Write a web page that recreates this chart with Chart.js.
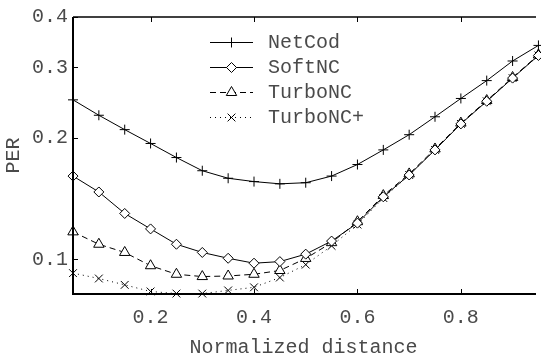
<!DOCTYPE html>
<html><head><meta charset="utf-8">
<script src="https://cdn.jsdelivr.net/npm/chart.js@4/dist/chart.umd.min.js"></script>
<style>html,body{margin:0;padding:0;background:#fff;overflow:hidden}</style>
</head><body>
<canvas id="c" width="541" height="363"></canvas>
<script>
// ---- data ----
const distances = [0.05,0.10,0.15,0.20,0.25,0.30,0.35,0.40,0.45,0.50,0.55,0.60,0.65,0.70,0.75,0.80,0.85,0.90,0.95];
const seriesNames = ['NetCod','SoftNC','TurboNC','TurboNC+'];
const netCod     = [0.249,0.228,0.210,0.194,0.179,0.166,0.159,0.156,0.154,0.155,0.161,0.172,0.187,0.204,0.226,0.251,0.278,0.311,0.340];
const softNC     = [0.161,0.147,0.130,0.119,0.109,0.104,0.1006,0.0978,0.0987,0.103,0.111,0.123,0.143,0.162,0.187,0.217,0.247,0.282,0.321];
const turboNC    = [0.117,0.109,0.104,0.0964,0.0918,0.0906,0.0909,0.0918,0.0938,0.1005,0.110,0.124,0.144,0.163,0.188,0.218,0.248,0.283,0.322];
const turboNCp   = [0.0924,0.0896,0.0864,0.0832,0.0822,0.0822,0.0837,0.0852,0.0901,0.097,0.108,0.122,0.142,0.162,0.187,0.217,0.247,0.282,0.321];
const xTicks = [0.2,0.4,0.6,0.8];
const yTicks = [0.1,0.2,0.3,0.4];
const xTitle = 'Normalized distance';
const yTitle = 'PER';

// ---- styles ----
const FONT = "'Liberation Mono','DejaVu Sans Mono',monospace";
const TEXT = '#4a4a4a';
const seriesStyles = [
  {pointStyle:'cross',    pointRadius:5,   borderDash:[]},
  {pointStyle:'rectRot',  pointRadius:5,   borderDash:[]},
  {pointStyle:'triangle', pointRadius:6,   borderDash:[6,4]},
  {pointStyle:'crossRot', pointRadius:5.5, borderDash:[1,4]}
];
const allSeries = [netCod, softNC, turboNC, turboNCp];

const datasets = allSeries.map((arr,i)=>({
  label: seriesNames[i],
  data: distances.map((x,j)=>({x:x, y:arr[j]})),
  borderColor:'#000',
  borderWidth:1,
  borderDash: seriesStyles[i].borderDash,
  pointStyle: seriesStyles[i].pointStyle,
  pointRadius: seriesStyles[i].pointRadius,
  pointBorderColor:'#000',
  pointBackgroundColor:'#fff',
  pointBorderWidth:1,
  tension:0,
  fill:false,
  clip:false
}));

const frame = {
  id:'frame',
  afterDraw(chart){
    const {ctx, chartArea:a, scales:{x,y}} = chart;
    ctx.save();
    ctx.strokeStyle='#000';
    ctx.lineWidth=2;
    ctx.beginPath();
    ctx.moveTo(a.left, a.top); ctx.lineTo(a.left, a.bottom); ctx.lineTo(a.right+2, a.bottom);
    ctx.stroke();
    ctx.lineWidth=1.5;
    ctx.beginPath(); ctx.moveTo(a.left, a.top); ctx.lineTo(a.right+2, a.top); ctx.stroke();
    ctx.lineWidth=1;
    xTicks.forEach(v=>{
      const px = Math.round(x.getPixelForValue(v))+0.5;
      ctx.beginPath();
      ctx.moveTo(px, a.bottom); ctx.lineTo(px, a.bottom-5);
      ctx.moveTo(px, a.top); ctx.lineTo(px, a.top+5);
      ctx.stroke();
    });
    yTicks.forEach(v=>{
      const py = Math.round(y.getPixelForValue(v))+0.5;
      ctx.beginPath(); ctx.moveTo(a.left, py); ctx.lineTo(a.left+5, py); ctx.stroke();
    });
    // legend
    const rows = [42,67,92,117];
    chart.data.datasets.forEach((ds,i)=>{
      const ry = rows[i];
      ctx.strokeStyle='#000'; ctx.lineWidth=1;
      ctx.setLineDash(ds.borderDash);
      ctx.beginPath(); ctx.moveTo(210, ry+0.5); ctx.lineTo(253, ry+0.5); ctx.stroke();
      ctx.setLineDash([]);
      ctx.fillStyle='#fff';
      Chart.helpers.drawPoint(ctx, {pointStyle:ds.pointStyle, radius:ds.pointRadius, borderWidth:1, rotation:0}, 231.5, ry+0.5);
      ctx.fillStyle=TEXT;
      ctx.font = '20px '+FONT;
      ctx.textBaseline='middle'; ctx.textAlign='left';
      ctx.fillText(ds.label, 268, ry+1);
    });
    ctx.restore();
  }
};

new Chart(document.getElementById('c'), {
  type:'line',
  data:{datasets},
  plugins:[frame],
  options:{
    responsive:false,
    animation:false,
    devicePixelRatio:1,
    layout:{padding:{top:6,right:0,left:0,bottom:0}},
    plugins:{legend:{display:false}, tooltip:{enabled:false}},
    scales:{
      x:{
        type:'linear', min:0.05, max:0.9414,
        grid:{display:false, drawTicks:false},
        border:{display:false},
        afterBuildTicks(ax){ ax.ticks = xTicks.map(v=>({value:v})); },
        afterFit(ax){ ax.height = 69; },
        ticks:{padding:12, color:TEXT, font:{family:FONT, size:20}, maxRotation:0, callback:v=>v.toFixed(1)},
        title:{display:true, text:xTitle, color:TEXT, font:{family:FONT, size:20}, padding:{top:0,bottom:3}}
      },
      y:{
        type:'logarithmic', min:0.082, max:0.4,
        grid:{display:false, drawTicks:false},
        border:{display:false},
        afterBuildTicks(ax){ ax.ticks = yTicks.map(v=>({value:v})); },
        afterFit(ax){ ax.width = 73; },
        ticks:{padding:5, color:TEXT, font:{family:FONT, size:20}, callback:v=>Number(v).toFixed(1)},
        title:{display:true, text:yTitle, color:TEXT, font:{family:FONT, size:20}, padding:{top:2,bottom:0}}
      }
    }
  }
});
</script>
</body></html>
